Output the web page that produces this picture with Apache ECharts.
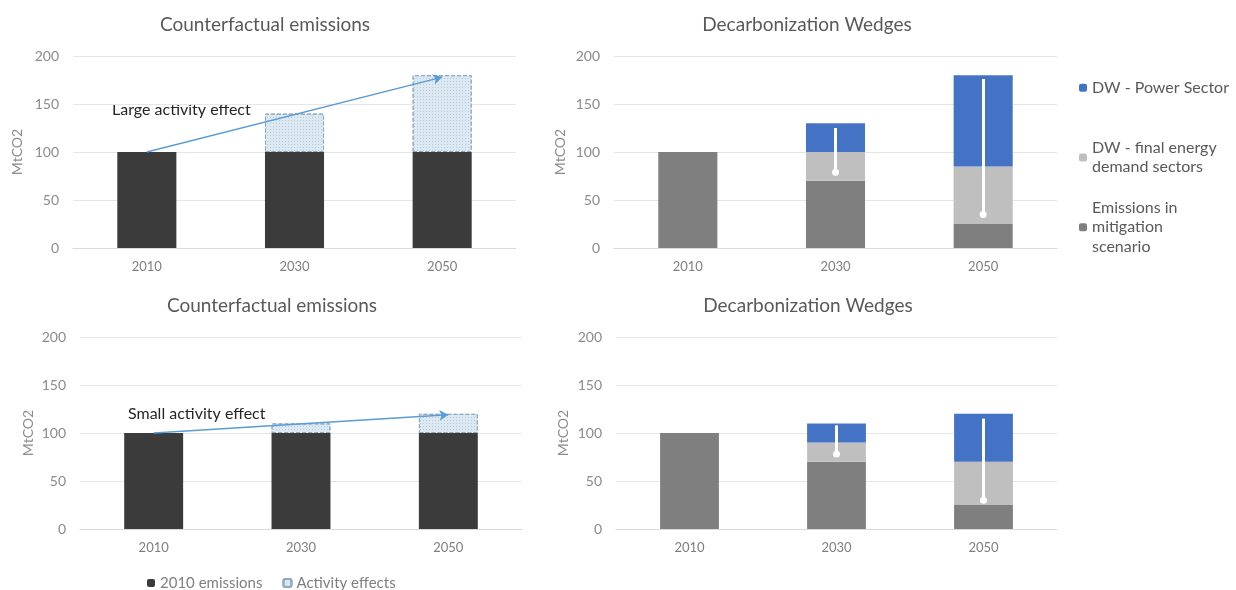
<!DOCTYPE html>
<html>
<head>
<meta charset="utf-8">
<script src="https://cdn.jsdelivr.net/npm/echarts@6/dist/echarts.min.js"></script>
<style>html,body{margin:0;padding:0;background:#fff}#c{width:1236px;height:590px}</style>
</head>
<body>
<div id="c"></div>
<script>
var categories = ['2010', '2030', '2050'];
var yTicks = [0, 50, 100, 150, 200];

// Top-left: counterfactual emissions (large activity)
var tlBase = [100, 100, 100];
var tlActivity = ['-', 40, 80];
var tlArrow = [100, 178];

// Bottom-left: counterfactual emissions (small activity)
var blBase = [100, 100, 100];
var blActivity = ['-', 10, 20];
var blArrow = [100, 119];

// Top-right: decarbonization wedges
var trEmissions = [100, 70, 25];
var trFinal = ['-', 30, 60];
var trPower = ['-', 30, 95];
var trArrow2030 = [125, 79];
var trArrow2050 = [176, 35];

// Bottom-right: decarbonization wedges
var brEmissions = [100, 70, 25];
var brFinal = ['-', 20, 45];
var brPower = ['-', 20, 50];
var brArrow2030 = [108, 78];
var brArrow2050 = [115, 30];

var FONT = 'Lato';
var grids = [
  {left: 73, right: 720, top: 56, height: 192},
  {left: 614, right: 179, top: 56, height: 192},
  {left: 80, right: 714, top: 337, height: 192},
  {left: 616, right: 179, top: 337, height: 192}
];

function xA(i) {
  return {
    type: 'category', gridIndex: i, data: categories,
    axisLine: {lineStyle: {color: '#d9d9d9'}},
    axisTick: {show: false},
    axisLabel: {color: '#7f7f7f', fontSize: 13, fontFamily: FONT, margin: 12}
  };
}
function yA(i, gap) {
  return {
    type: 'value', gridIndex: i, min: yTicks[0], max: yTicks[yTicks.length - 1], interval: yTicks[1] - yTicks[0],
    name: 'MtCO2', nameLocation: 'middle', nameGap: gap,
    nameTextStyle: {color: '#8c8c8c', fontSize: 14, fontFamily: FONT},
    axisLine: {show: false}, axisTick: {show: false},
    axisLabel: {color: '#8c8c8c', fontSize: 14, fontFamily: FONT, margin: 14},
    splitLine: {lineStyle: {color: '#e6e6e6'}}
  };
}

var activityStyle = {
  color: '#dce9f2',
  borderColor: '#8fa9bd',
  borderType: 'dashed',
  borderWidth: 1,
  decal: {symbol: 'rect', symbolSize: 1, color: 'rgba(150,178,198,0.55)', dashArrayX: [1, 2], dashArrayY: [1, 2]}
};

function leftSeries(i, base, act, arrow, stack) {
  return [
    {name: '2010 emissions', type: 'bar', xAxisIndex: i, yAxisIndex: i, stack: stack, data: base,
     barWidth: '40%', itemStyle: {color: '#3b3b3b'}},
    {name: 'Activity effects', type: 'bar', xAxisIndex: i, yAxisIndex: i, stack: stack, data: act,
     barWidth: '40%', itemStyle: activityStyle,
     markLine: {silent: true, symbol: ['none', 'arrow'], symbolSize: [8, 9],
       lineStyle: {color: '#5b9bd5', width: 1.5, type: 'solid'}, label: {show: false},
       data: [[{coord: [0, arrow[0]]}, {coord: [2, arrow[1]]}]]}}
  ];
}
function rightSeries(i, em, fin, pow, a1, a2, stack) {
  return [
    {name: 'Emissions in mitigation scenario', type: 'bar', xAxisIndex: i, yAxisIndex: i, stack: stack, data: em,
     barWidth: '40%', itemStyle: {color: '#7f7f7f'}},
    {name: 'DW - final energy demand sectors', type: 'bar', xAxisIndex: i, yAxisIndex: i, stack: stack, data: fin,
     barWidth: '40%', itemStyle: {color: '#bfbfbf'}},
    {name: 'DW - Power Sector', type: 'bar', xAxisIndex: i, yAxisIndex: i, stack: stack, data: pow,
     barWidth: '40%', itemStyle: {color: '#4472c4'},
     markLine: {silent: true, symbol: ['none', 'circle'], symbolSize: 7,
       lineStyle: {color: '#ffffff', width: 3, type: 'solid', opacity: 1}, label: {show: false},
       data: [[{coord: [1, a1[0]]}, {coord: [1, a1[1]]}], [{coord: [2, a2[0]]}, {coord: [2, a2[1]]}]]}}
  ];
}

var titleStyle = {color: '#595959', fontSize: 19, fontWeight: 'normal', fontFamily: FONT};
var legendText = {color: '#595959', fontSize: 16, fontFamily: FONT, lineHeight: 19.5};
var legendNames = {
  'DW - Power Sector': 'DW - Power Sector',
  'DW - final energy demand sectors': 'DW - final energy\ndemand sectors',
  'Emissions in mitigation scenario': 'Emissions in\nmitigation\nscenario'
};
function rightLegend(name, top) {
  return {data: [name], left: 1079, top: top, padding: 0, orient: 'vertical', itemWidth: 8, itemHeight: 8,
    textStyle: legendText, formatter: function (n) { return legendNames[n]; }, selectedMode: false};
}

var option = {
  animation: false,
  backgroundColor: '#ffffff',
  title: [
    {text: 'Counterfactual emissions', left: 260, top: 10, textAlign: 'center', textStyle: titleStyle},
    {text: 'Decarbonization Wedges', left: 802, top: 10, textAlign: 'center', textStyle: titleStyle},
    {text: 'Counterfactual emissions', left: 267, top: 291, textAlign: 'center', textStyle: titleStyle},
    {text: 'Decarbonization Wedges', left: 803, top: 291, textAlign: 'center', textStyle: titleStyle}
  ],
  legend: [
    {data: ['2010 emissions', 'Activity effects'], left: 147, top: 575, padding: 0, itemWidth: 8, itemHeight: 8, itemGap: 20,
     textStyle: {color: '#7f7f7f', fontSize: 15, fontFamily: FONT, lineHeight: 16}, selectedMode: false},
    rightLegend('DW - Power Sector', 78),
    rightLegend('DW - final energy demand sectors', 138),
    rightLegend('Emissions in mitigation scenario', 198)
  ],
  grid: grids,
  xAxis: [xA(0), xA(1), xA(2), xA(3)],
  yAxis: [yA(0, 49), yA(1, 47), yA(2, 45), yA(3, 46)],
  series: [].concat(
    leftSeries(0, tlBase, tlActivity, tlArrow, 'tl'),
    rightSeries(1, trEmissions, trFinal, trPower, trArrow2030, trArrow2050, 'tr'),
    leftSeries(2, blBase, blActivity, blArrow, 'bl'),
    rightSeries(3, brEmissions, brFinal, brPower, brArrow2030, brArrow2050, 'br')
  ),
  graphic: [
    {type: 'text', left: 112, top: 102, style: {text: 'Large activity effect', fill: '#262626', font: '16px Lato'}},
    {type: 'text', left: 128, top: 406, style: {text: 'Small activity effect', fill: '#262626', font: '16px Lato'}}
  ]
};
var chart = echarts.init(document.getElementById('c'));
chart.setOption(option);
</script>
</body>
</html>
